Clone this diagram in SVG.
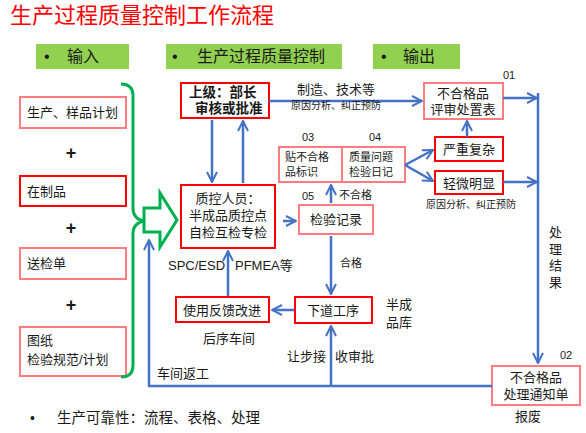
<svg xmlns="http://www.w3.org/2000/svg" width="586" height="433" viewBox="0 0 586 433">
<style>
text{font-family:"Liberation Sans","Noto Sans CJK SC",sans-serif;fill:#1a1a1a}
.t{font-size:13px}
.c{text-anchor:middle}
.s{font-size:10px}
.n{font-size:11px}
.b{font-weight:bold}
.hd{fill:#92D050}
.hdt{font-size:16px;fill:#1a1a1a}
.pl{font-size:18px;font-weight:bold;text-anchor:middle}
.pk{fill:#fff;stroke:#FF7C80;stroke-width:2}
.rd{fill:#fff;stroke:#FF0000;stroke-width:2}
.ln{fill:none;stroke:#4472C4;stroke-width:2.5}
.ar{marker-end:url(#ah)}
.g{fill:none;stroke:#00B050;stroke-width:3}
</style>
<defs>
<marker id="ah" viewBox="0 0 10 10" refX="9" refY="5" markerWidth="5" markerHeight="5" orient="auto" markerUnits="strokeWidth">
<path d="M1,1 L9,5 L1,9" fill="none" stroke="#4472C4" stroke-width="1.6"/>
</marker>
</defs>
<rect width="586" height="433" fill="#fff"/>
<text x="10" y="23" style="font-size:22px;fill:#FF0000">生产过程质量控制工作流程</text>

<g id="hdr-in"><rect class="hd" x="36" y="44" width="93" height="25"/><text class="hdt" x="44" y="62">•</text><text class="hdt" x="67" y="62">输入</text></g>
<g id="hdr-ctrl"><rect class="hd" x="166" y="44" width="176" height="25"/><text class="hdt" x="172" y="62">•</text><text class="hdt" x="197" y="62">生产过程质量控制</text></g>
<g id="hdr-out"><rect class="hd" x="373" y="44" width="87" height="25"/><text class="hdt" x="381" y="62">•</text><text class="hdt" x="403" y="62">输出</text></g>

<g id="in1"><rect class="pk" x="20" y="97" width="106" height="31"/><text class="t" x="27" y="117">生产、样品计划</text></g>
<text x="71" y="159" class="pl">+</text>
<g id="in2"><rect class="rd" x="20" y="176" width="106" height="30"/><text class="t" x="27" y="196">在制品</text></g>
<text x="71" y="234" class="pl">+</text>
<g id="in3"><rect class="pk" x="20" y="248" width="106" height="31"/><text class="t" x="27" y="268">送检单</text></g>
<text x="71" y="311" class="pl">+</text>
<g id="in4"><rect class="pk" x="20" y="327" width="106" height="49"/><text class="t" x="27" y="345">图纸</text><text class="t" x="27" y="364">检验规范/计划</text></g>

<g id="brace"><path class="g" d="M121,84 Q133,84 133,96 L133,208 Q133,220 146,221 Q133,222 133,234 L133,365 Q133,377 121,377"/></g>
<g id="bigarrow"><polygon points="144,208 160,208 160,193 177,220 160,247 160,232 144,232" fill="#fff" stroke="#00B050" stroke-width="3"/></g>

<g id="boss"><rect class="rd" x="181" y="83" width="88" height="35"/><text class="b" style="font-size:13.5px" x="189" y="97">上级：部长</text><text class="b" style="font-size:13.5px" x="195" y="113">审核或批准</text></g>
<g id="qc"><rect class="rd" x="181" y="185" width="94" height="63"/><text class="t c" x="228" y="203">质控人员：</text><text class="t c" x="228" y="220">半成品质控点</text><text class="t c" x="228" y="237">自检互检专检</text></g>
<g id="rec"><rect class="pk" x="299" y="205" width="74" height="29"/><text class="t c" x="336" y="224">检验记录</text><text class="n" x="302" y="200">05</text></g>
<g id="tag"><rect class="pk" x="279" y="147" width="63" height="35"/><text class="n" x="285" y="161">贴不合格</text><text class="n" x="285" y="176">品标识</text><text class="n" x="302" y="141">03</text></g>
<g id="diary"><rect class="pk" x="342" y="147" width="63" height="35"/><text class="n" x="349" y="161">质量问题</text><text class="n" x="349" y="176">检验日记</text><text class="n" x="369" y="141">04</text></g>
<g id="next"><rect class="rd" x="295" y="297" width="77" height="26"/><text class="t c" x="333" y="315">下道工序</text></g>
<g id="fb"><rect class="rd" x="176" y="297" width="93" height="25"/><text class="t c" x="222" y="315">使用反馈改进</text></g>
<g id="review"><rect class="pk" x="424" y="83" width="79" height="36"/><text class="t c" x="463" y="98">不合格品</text><text class="t c" x="463" y="114">评审处置表</text><text class="n" x="503" y="79">01</text></g>
<g id="severe"><rect class="rd" x="435" y="137" width="68" height="24"/><text class="t c" x="469" y="154">严重复杂</text></g>
<g id="minor"><rect class="rd" x="435" y="171" width="68" height="23"/><text class="t c" x="469" y="188">轻微明显</text></g>
<g id="notice"><rect class="pk" x="492" y="366" width="88" height="39"/><text class="t c" x="536" y="382">不合格品</text><text class="t c" x="536" y="399">处理通知单</text><text class="n" x="560" y="359">02</text></g>

<g id="connectors">
<line class="ln ar" x1="212" y1="120" x2="212" y2="182"/>
<line class="ln ar" x1="243" y1="183" x2="243" y2="121"/>
<line class="ln ar" x1="269" y1="101" x2="422" y2="101"/>
<line class="ln ar" x1="283" y1="221" x2="296" y2="221"/>
<line class="ln ar" x1="331" y1="203" x2="331" y2="185"/>
<line class="ln ar" x1="331" y1="236" x2="331" y2="294"/>
<line class="ln ar" x1="294" y1="310" x2="272" y2="310"/>
<line class="ln ar" x1="228" y1="296" x2="228" y2="251"/>
<path class="ln ar" d="M405,165 L433,150"/>
<path class="ln ar" d="M405,165 L433,181"/>
<line class="ln ar" x1="467" y1="137" x2="467" y2="121"/>
<line class="ln ar" x1="503" y1="98" x2="537" y2="98"/>
<line class="ln ar" x1="503" y1="182" x2="537" y2="182"/>
<line class="ln ar" x1="538" y1="93" x2="538" y2="363"/>
<path class="ln ar" d="M492,386 L149,386 L149,240"/>
<line class="ln ar" x1="331" y1="386" x2="331" y2="326"/>
</g>

<g id="labels">
<text class="t" x="297" y="94">制造、技术等</text>
<text class="s" x="291" y="109">原因分析、纠正预防</text>
<text class="n" x="339" y="199">不合格</text>
<text class="n" x="340" y="267">合格</text>
<text class="t" x="168" y="270">SPC/ESD</text>
<text class="t" x="235" y="270">PFMEA等</text>
<text class="t" x="203" y="343">后序车间</text>
<text class="t" x="386" y="309">半成</text>
<text class="t" x="386" y="327">品库</text>
<text class="t" x="287" y="361">让步接</text>
<text class="t" x="335" y="361">收审批</text>
<text class="t" x="157" y="378">车间返工</text>
<text class="s" x="426" y="208">原因分析、纠正预防</text>
<text class="t" x="549" y="237">处</text>
<text class="t" x="549" y="254">理</text>
<text class="t" x="549" y="270">结</text>
<text class="t" x="549" y="287">果</text>
<text class="t" x="515" y="421">报废</text>
<text style="font-size:14px" x="30" y="423">•</text>
<text style="font-size:14.5px" x="57" y="423">生产可靠性：流程、表格、处理</text>
</g>
</svg>
